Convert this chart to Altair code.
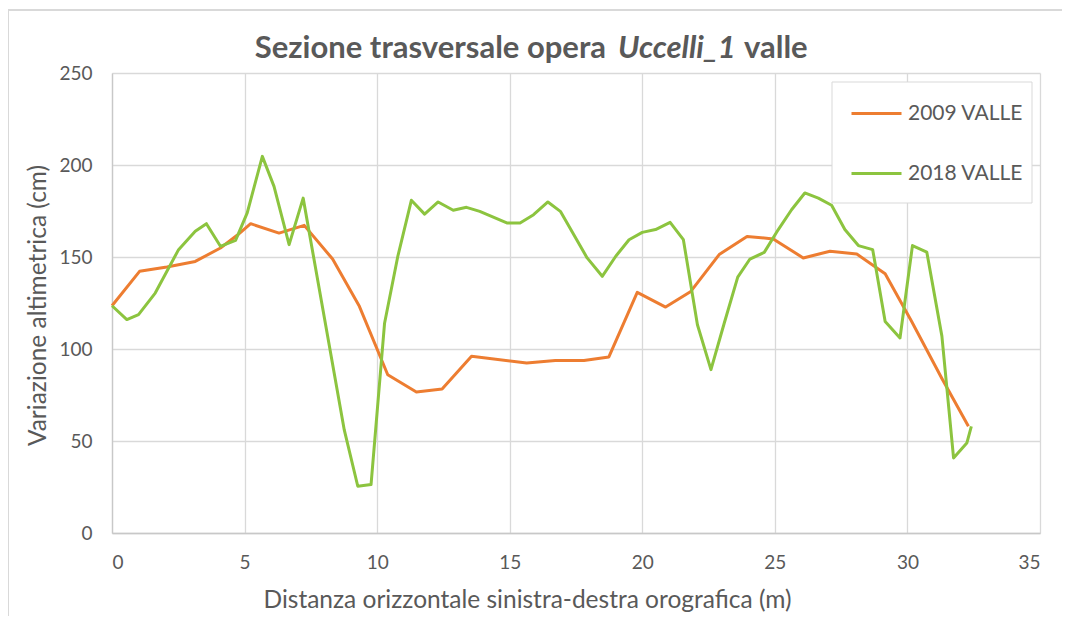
import altair as alt
import pandas as pd

x2009 = [0, 1.04, 2.07, 3.14, 4.09, 4.72, 5.23, 6.30, 7.25, 8.32, 9.33, 10.4, 11.48, 12.45,
         13.56, 15.64, 16.72, 17.8, 18.74, 19.81, 20.88, 21.83, 22.9, 23.95, 24.94, 26.07,
         27.08, 28.09, 29.16, 30.16, 31.3, 32.3]
y2009 = [123.5, 142.2, 144.6, 147.6, 154.9, 161.8, 168.1, 163, 167.2, 148.9, 123.2, 86, 76.6, 78.2,
         96, 92.4, 93.7, 93.7, 95.7, 130.8, 122.8, 131.3, 151.3, 161.2, 159.8, 149.5,
         153.1, 151.6, 140.9, 115, 84, 58]

x2018 = [0, 0.56, 1.0, 1.63, 2.51, 3.14, 3.56, 4.09, 4.66, 5.1, 5.67, 6.11, 6.68, 7.21,
         8.76, 9.27, 9.77, 10.28, 10.78, 11.29, 11.79, 12.3, 12.87, 13.37, 13.87, 14.89,
         15.39, 15.9, 16.44, 16.91, 17.92, 18.49, 19.0, 19.5, 20.0, 20.5, 21.05, 21.55,
         22.08, 22.59, 23.09, 23.6, 24.06, 24.6, 25.13, 25.63, 26.13, 26.64, 27.14, 27.64,
         28.15, 28.69, 29.16, 29.72, 30.19, 30.73, 31.3, 31.74, 32.24, 32.41]
y2018 = [123.5, 116, 118.7, 130.4, 154, 164, 168.1, 155.8, 159, 174, 204.7, 188.4, 156.7, 182,
         56, 25.4, 26.3, 114, 150.4, 180.8, 173.3, 179.9, 175.4, 177, 174.8, 168.5,
         168.5, 173, 179.9, 174.8, 149.5, 139.5, 150.4, 159.4, 163.4, 164.9, 168.8, 159.4,
         113.2, 88.8, 114, 139.1, 148.9, 152.5, 164.9, 175.7, 184.8, 182, 178.1, 164.9,
         156.2, 154, 115, 106, 156.2, 152.7, 107, 40.8, 48.9, 58]

series = ["2009 VALLE", "2018 VALLE"]
colors = ["#ED7D31", "#8CC43F"]
x_ticks = [0, 5, 10, 15, 20, 25, 30, 35]
y_ticks = [0, 50, 100, 150, 200, 250]

rows = []
for i, (xv, yv) in enumerate(zip(x2009, y2009)):
    rows.append({"serie": series[0], "x": xv, "y": yv, "ord": i})
for i, (xv, yv) in enumerate(zip(x2018, y2018)):
    rows.append({"serie": series[1], "x": xv, "y": yv, "ord": i})
df = pd.DataFrame(rows)

FONT = "Lato"
GREY = "#595959"

lines = alt.Chart(df).mark_line(strokeWidth=3, strokeJoin="round").encode(
    x=alt.X("x:Q", scale=alt.Scale(domain=[0, 35], nice=False),
            axis=alt.Axis(values=x_ticks, title="Distanza orizzontale sinistra-destra orografica (m)",
                          titleX=415, titleY=67, titleBaseline="middle", titleAlign="center")),
    y=alt.Y("y:Q", scale=alt.Scale(domain=[0, 250], nice=False),
            axis=alt.Axis(values=y_ticks, title="Variazione altimetrica (cm)",
                          titleX=-74, titleY=232, titleAngle=270, titleBaseline="middle",
                          titleAlign="center")),
    color=alt.Color("serie:N", scale=alt.Scale(domain=series, range=colors),
                    legend=alt.Legend(title=None, orient="none", legendX=720, legendY=9,
                                      symbolType="stroke", symbolSize=2500, symbolStrokeWidth=3,
                                      labelFontSize=21, labelColor=GREY, labelFont=FONT,
                                      rowPadding=23, padding=5, symbolOffset=13, labelOffset=5)),
    order="ord:Q",
)

legend_box = alt.Chart(pd.DataFrame({"a": [0]})).mark_rect(
    fill="white", stroke="#D9D9D9", strokeWidth=1
).encode(x=alt.value(720), x2=alt.value(920), y=alt.value(9), y2=alt.value(130))

TS = 31
t1 = alt.Chart(pd.DataFrame({"t": ["Sezione trasversale opera"]})).mark_text(
    font=FONT, fontSize=TS, fontWeight="bold", color=GREY, align="right", baseline="alphabetic"
).encode(text="t:N", x=alt.value(494), y=alt.value(-15))
t2 = alt.Chart(pd.DataFrame({"t": ["Uccelli_1"]})).mark_text(
    font=FONT, fontSize=TS, fontWeight="bold", fontStyle="italic", color=GREY, align="left",
    baseline="alphabetic"
).encode(text="t:N", x=alt.value(506), y=alt.value(-15))
t3 = alt.Chart(pd.DataFrame({"t": ["valle"]})).mark_text(
    font=FONT, fontSize=TS, fontWeight="bold", color=GREY, align="left", baseline="alphabetic"
).encode(text="t:N", x=alt.value(632), y=alt.value(-15))

border_top = alt.Chart(pd.DataFrame({"a": [0]})).mark_rule(color="#D9D9D9", strokeWidth=2).encode(
    x=alt.value(-104), x2=alt.value(960), y=alt.value(-63))
border_left = alt.Chart(pd.DataFrame({"a": [0]})).mark_rule(color="#D9D9D9", strokeWidth=2).encode(
    x=alt.value(-104), y=alt.value(-63), y2=alt.value(560))

chart = alt.layer(border_top, border_left, legend_box, lines, t1, t2, t3).properties(
    width=928, height=460,
    autosize=alt.AutoSizeParams(type="none"),
    padding={"left": 104, "top": 65, "right": 22, "bottom": 83},
).configure_view(stroke=None).configure_axis(
    grid=True, gridColor="#D9D9D9", gridWidth=1.3, domainColor="#C8C8C8", domainWidth=1.3,
    ticks=False, labelFont=FONT, labelFontSize=19, labelColor=GREY, labelPadding=18,
    titleFont=FONT, titleFontSize=24.5, titleColor=GREY, titleFontWeight="normal",
).configure_axisY(labelPadding=20).configure_axisX(labelPadding=20)

chart.save("out.html", embed_options={"renderer": "svg", "actions": False})
